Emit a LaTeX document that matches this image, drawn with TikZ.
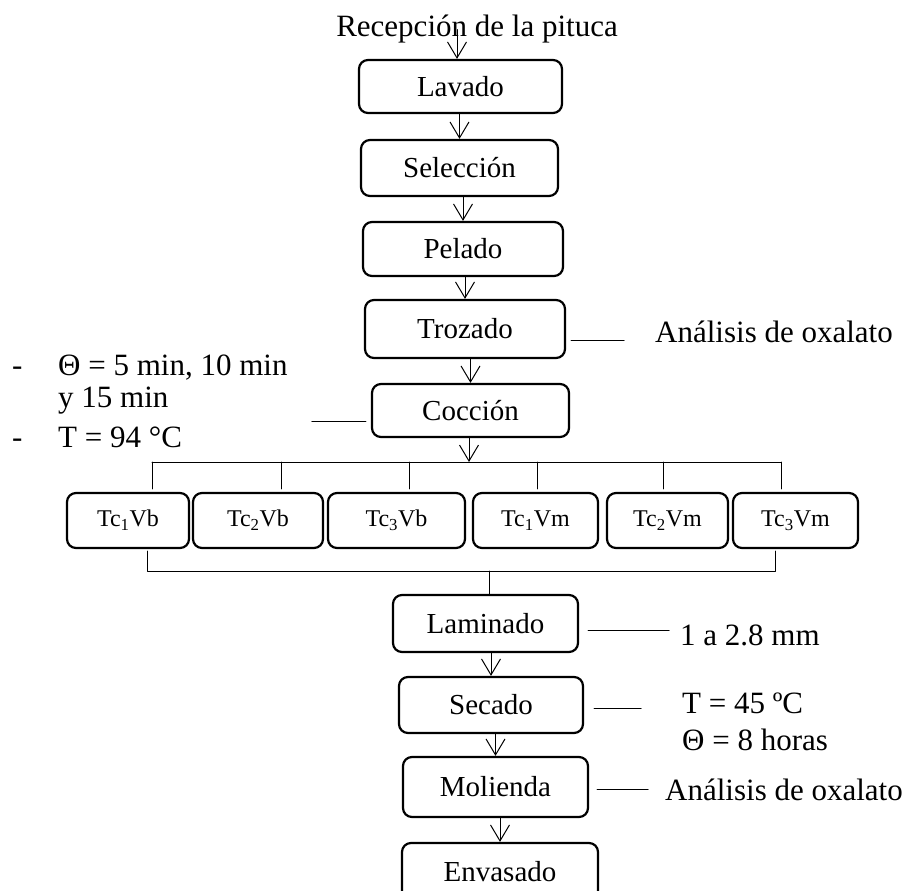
\documentclass[tikz,border=0pt]{standalone}
\usepackage{fontspec}
\setmainfont{Liberation Serif}
\usetikzlibrary{arrows.meta,calc}
\begin{document}
\begin{tikzpicture}[x=1pt,y=-1pt,line join=round,line cap=round,>={Straight Barb[length=16pt,width=19pt]}]
	\tikzset{paso/.style={draw,line width=2.2pt,rounded corners=9pt,inner sep=0pt,font=\fontsize{29}{34}\selectfont},
		trat/.style={paso,minimum width=#1pt,minimum height=55pt,font=\fontsize{24}{28}\selectfont},
		nota/.style={inner sep=0pt,anchor=base west,font=\fontsize{31}{36}\selectfont},
		fino/.style={line width=1pt}}
	\useasboundingbox (0,0) rectangle (921,891);
	\coordinate (busT) at (0,462);
	\coordinate (busB) at (0,571);
	\node[nota,anchor=base] (rec) at (477,37) {Recepción de la pituca};
	\node[paso,minimum width=203pt,minimum height=53pt] (lav) at (460.5,86.5) {Lavado};
	\node[paso,minimum width=197pt,minimum height=56pt] (sel) at (459.5,168) {Selección};
	\node[paso,minimum width=200pt,minimum height=54pt] (pel) at (463,249) {Pelado};
	\node[paso,minimum width=200pt,minimum height=58pt] (tro) at (465,329) {Trozado};
	\node[paso,minimum width=197pt,minimum height=53pt] (coc) at (470.5,410.5) {Cocción};
	\foreach \n/\x/\w/\t in {t1b/128/122/Tc\textsubscript{1}Vb,t2b/258/130/Tc\textsubscript{2}Vb,t3b/396.5/137/Tc\textsubscript{3}Vb,
		t1m/535.5/125/Tc\textsubscript{1}Vm,t2m/667.5/121/Tc\textsubscript{2}Vm,t3m/795.5/125/Tc\textsubscript{3}Vm}
		\node[trat=\w] (\n) at (\x,520.5) {\t};
	\node[paso,minimum width=185pt,minimum height=57pt] (lam) at (485.5,623.5) {Laminado};
	\node[paso,minimum width=184pt,minimum height=56pt] (sec) at (491,705) {Secado};
	\node[paso,minimum width=185pt,minimum height=60pt] (mol) at (495.5,787) {Molienda};
	\node[paso,minimum width=196pt,minimum height=57pt] (env) at (500,871.5) {Envasado};
	\draw[fino,->] ([xshift=-3.5pt]lav.north |- rec.center) -- ([xshift=-3.5pt]lav.north);
	\draw[fino,->] (lav.south -| sel.north) -- (sel.north);
	\draw[fino,->] (sel.south -| pel.north) -- (pel.north);
	\draw[fino,->] (pel.south -| tro.north) -- (tro.north);
	\draw[fino,->] (tro.south -| coc.north) -- (coc.north);
	\draw[fino,->] ([xshift=-1.5pt]coc.south) -- ([xshift=-1.5pt]coc.south |- busT);
	\draw[fino] ([xshift=24pt]t1b.north |- busT) -- ([xshift=-14.5pt]t3m.north |- busT);
	\foreach \n/\d in {t1b/24pt,t2b/23pt,t3b/12.5pt,t1m/1.5pt,t2m/-4.5pt,t3m/-14.5pt}
		\draw[fino] ([xshift=\d]\n.north |- busT) -- ([xshift=\d,yshift=3pt]\n.north);
	\draw[fino] ([xshift=19pt,yshift=-2pt]t1b.south) -- ([xshift=19pt]t1b.south |- busB) -| ([xshift=-20.5pt,yshift=-2pt]t3m.south);
	\draw[fino] ([xshift=3.5pt]lam.north |- busB) -- ([xshift=3.5pt]lam.north);
	\draw[fino,->] (lam.south -| sec.north) -- (sec.north);
	\draw[fino,->] (sec.south -| mol.north) -- (mol.north);
	\draw[fino,->] (mol.south -| env.north) -- (env.north);
	\node[nota] (an1) at (655,342) {Análisis de oxalato};
	\draw[fino] ($(tro.east)+(5,11)$) -- ++(53,0);
	\node[nota] (g1) at (12,375) {-};
	\node[nota] (cond1) at (58,375) {Θ = 5 min, 10 min};
	\node[nota] (cond2) at (58,407) {y 15 min};
	\node[nota] (g2) at (12,447) {-};
	\node[nota] (cond3) at (58,447) {T = 94 °C};
	\draw[fino] ($(coc.west)+(-5,10.5)$) -- ++(-54,0);
	\node[nota] (esp) at (680,645) {1 a 2.8 mm};
	\draw[fino] ($(lam.east)+(9,6.5)$) -- ++(81,0);
	\node[nota] (sec1) at (682,713) {T = 45 ºC};
	\node[nota] (sec2) at (682,750) {Θ = 8 horas};
	\draw[fino] ($(sec.east)+(10,3)$) -- ++(47,0);
	\node[nota] (an2) at (665,800) {Análisis de oxalato};
	\draw[fino] ($(mol.east)+(8,2)$) -- ++(51,0);
\end{tikzpicture}
\end{document}
